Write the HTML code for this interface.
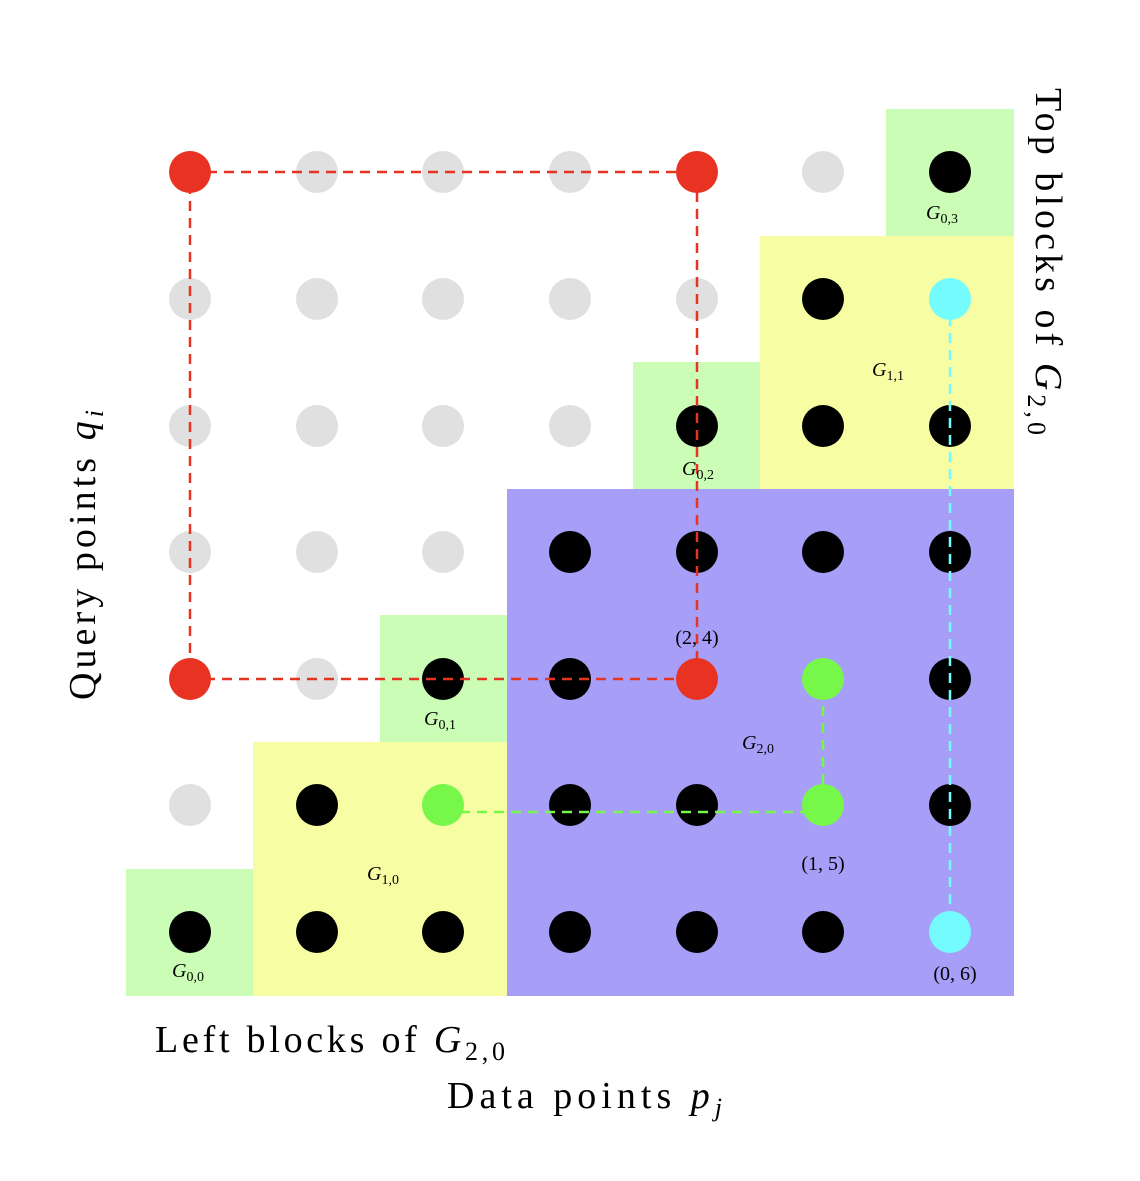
<!DOCTYPE html>
<html><head><style>body{margin:0;background:#fff}</style></head><body>
<svg width="1140" height="1176" xmlns="http://www.w3.org/2000/svg" font-family="Liberation Serif, serif">
<rect x="126" y="869" width="127" height="127" fill="#cbfdb6"/>
<rect x="253" y="742" width="254" height="254" fill="#f7fda2"/>
<rect x="380" y="615" width="127" height="127" fill="#cbfdb6"/>
<rect x="507" y="489" width="507" height="507" fill="#a79ff7"/>
<rect x="633" y="362" width="127" height="127" fill="#cbfdb6"/>
<rect x="760" y="236" width="254" height="253" fill="#f7fda2"/>
<rect x="886" y="109" width="128" height="127" fill="#cbfdb6"/>
<g>
<circle cx="190" cy="172" r="21" fill="#e83323"/><circle cx="317" cy="172" r="21" fill="#e0e0e0"/><circle cx="443" cy="172" r="21" fill="#e0e0e0"/><circle cx="570" cy="172" r="21" fill="#e0e0e0"/><circle cx="697" cy="172" r="21" fill="#e83323"/><circle cx="823" cy="172" r="21" fill="#e0e0e0"/><circle cx="950" cy="172" r="21" fill="#000"/>
<circle cx="190" cy="299" r="21" fill="#e0e0e0"/><circle cx="317" cy="299" r="21" fill="#e0e0e0"/><circle cx="443" cy="299" r="21" fill="#e0e0e0"/><circle cx="570" cy="299" r="21" fill="#e0e0e0"/><circle cx="697" cy="299" r="21" fill="#e0e0e0"/><circle cx="823" cy="299" r="21" fill="#000"/><circle cx="950" cy="299" r="21" fill="#74fbfd"/>
<circle cx="190" cy="426" r="21" fill="#e0e0e0"/><circle cx="317" cy="426" r="21" fill="#e0e0e0"/><circle cx="443" cy="426" r="21" fill="#e0e0e0"/><circle cx="570" cy="426" r="21" fill="#e0e0e0"/><circle cx="697" cy="426" r="21" fill="#000"/><circle cx="823" cy="426" r="21" fill="#000"/><circle cx="950" cy="426" r="21" fill="#000"/>
<circle cx="190" cy="552" r="21" fill="#e0e0e0"/><circle cx="317" cy="552" r="21" fill="#e0e0e0"/><circle cx="443" cy="552" r="21" fill="#e0e0e0"/><circle cx="570" cy="552" r="21" fill="#000"/><circle cx="697" cy="552" r="21" fill="#000"/><circle cx="823" cy="552" r="21" fill="#000"/><circle cx="950" cy="552" r="21" fill="#000"/>
<circle cx="190" cy="679" r="21" fill="#e83323"/><circle cx="317" cy="679" r="21" fill="#e0e0e0"/><circle cx="443" cy="679" r="21" fill="#000"/><circle cx="570" cy="679" r="21" fill="#000"/><circle cx="697" cy="679" r="21" fill="#e83323"/><circle cx="823" cy="679" r="21" fill="#77f74a"/><circle cx="950" cy="679" r="21" fill="#000"/>
<circle cx="190" cy="805" r="21" fill="#e0e0e0"/><circle cx="317" cy="805" r="21" fill="#000"/><circle cx="443" cy="805" r="21" fill="#77f74a"/><circle cx="570" cy="805" r="21" fill="#000"/><circle cx="697" cy="805" r="21" fill="#000"/><circle cx="823" cy="805" r="21" fill="#77f74a"/><circle cx="950" cy="805" r="21" fill="#000"/>
<circle cx="190" cy="932" r="21" fill="#000"/><circle cx="317" cy="932" r="21" fill="#000"/><circle cx="443" cy="932" r="21" fill="#000"/><circle cx="570" cy="932" r="21" fill="#000"/><circle cx="697" cy="932" r="21" fill="#000"/><circle cx="823" cy="932" r="21" fill="#000"/><circle cx="950" cy="932" r="21" fill="#74fbfd"/>
</g>
<g fill="none" stroke-width="2.5" stroke-dasharray="10,7">
<path d="M190 172H697V679H190Z" stroke="#e83323"/>
<path d="M443 812H823V679" stroke="#77f74a"/>
<path d="M950 299V932" stroke="#74fbfd"/>
</g>
<g font-size="20" font-style="italic" text-anchor="middle">
<text x="188" y="977">G<tspan font-size="14" font-style="normal" dy="4">0,0</tspan></text>
<text x="383" y="880">G<tspan font-size="14" font-style="normal" dy="4">1,0</tspan></text>
<text x="440" y="725">G<tspan font-size="14" font-style="normal" dy="4">0,1</tspan></text>
<text x="758" y="749">G<tspan font-size="14" font-style="normal" dy="4">2,0</tspan></text>
<text x="698" y="475">G<tspan font-size="14" font-style="normal" dy="4">0,2</tspan></text>
<text x="888" y="376">G<tspan font-size="14" font-style="normal" dy="4">1,1</tspan></text>
<text x="942" y="219">G<tspan font-size="14" font-style="normal" dy="4">0,3</tspan></text>
</g>
<g font-size="20" text-anchor="middle">
<text x="697" y="644">(2, 4)</text>
<text x="823" y="870">(1, 5)</text>
<text x="955" y="980">(0, 6)</text>
</g>
<text x="155" y="1052" font-size="38" textLength="350" lengthAdjust="spacing">Left blocks of <tspan font-style="italic">G</tspan><tspan font-size="26" dy="8">2,0</tspan></text>
<text x="447" y="1108" font-size="38" textLength="275" lengthAdjust="spacing">Data points <tspan font-style="italic">p<tspan font-size="26" dy="8">j</tspan></tspan></text>
<text transform="translate(95,700) rotate(-90)" font-size="38" textLength="290" lengthAdjust="spacing">Query points <tspan font-style="italic">q<tspan font-size="26" dy="8">i</tspan></tspan></text>
<text transform="translate(1036,88) rotate(90)" font-size="38" textLength="347" lengthAdjust="spacing">Top blocks of <tspan font-style="italic">G</tspan><tspan font-size="26" dy="8">2,0</tspan></text>
</svg>
</body></html>
